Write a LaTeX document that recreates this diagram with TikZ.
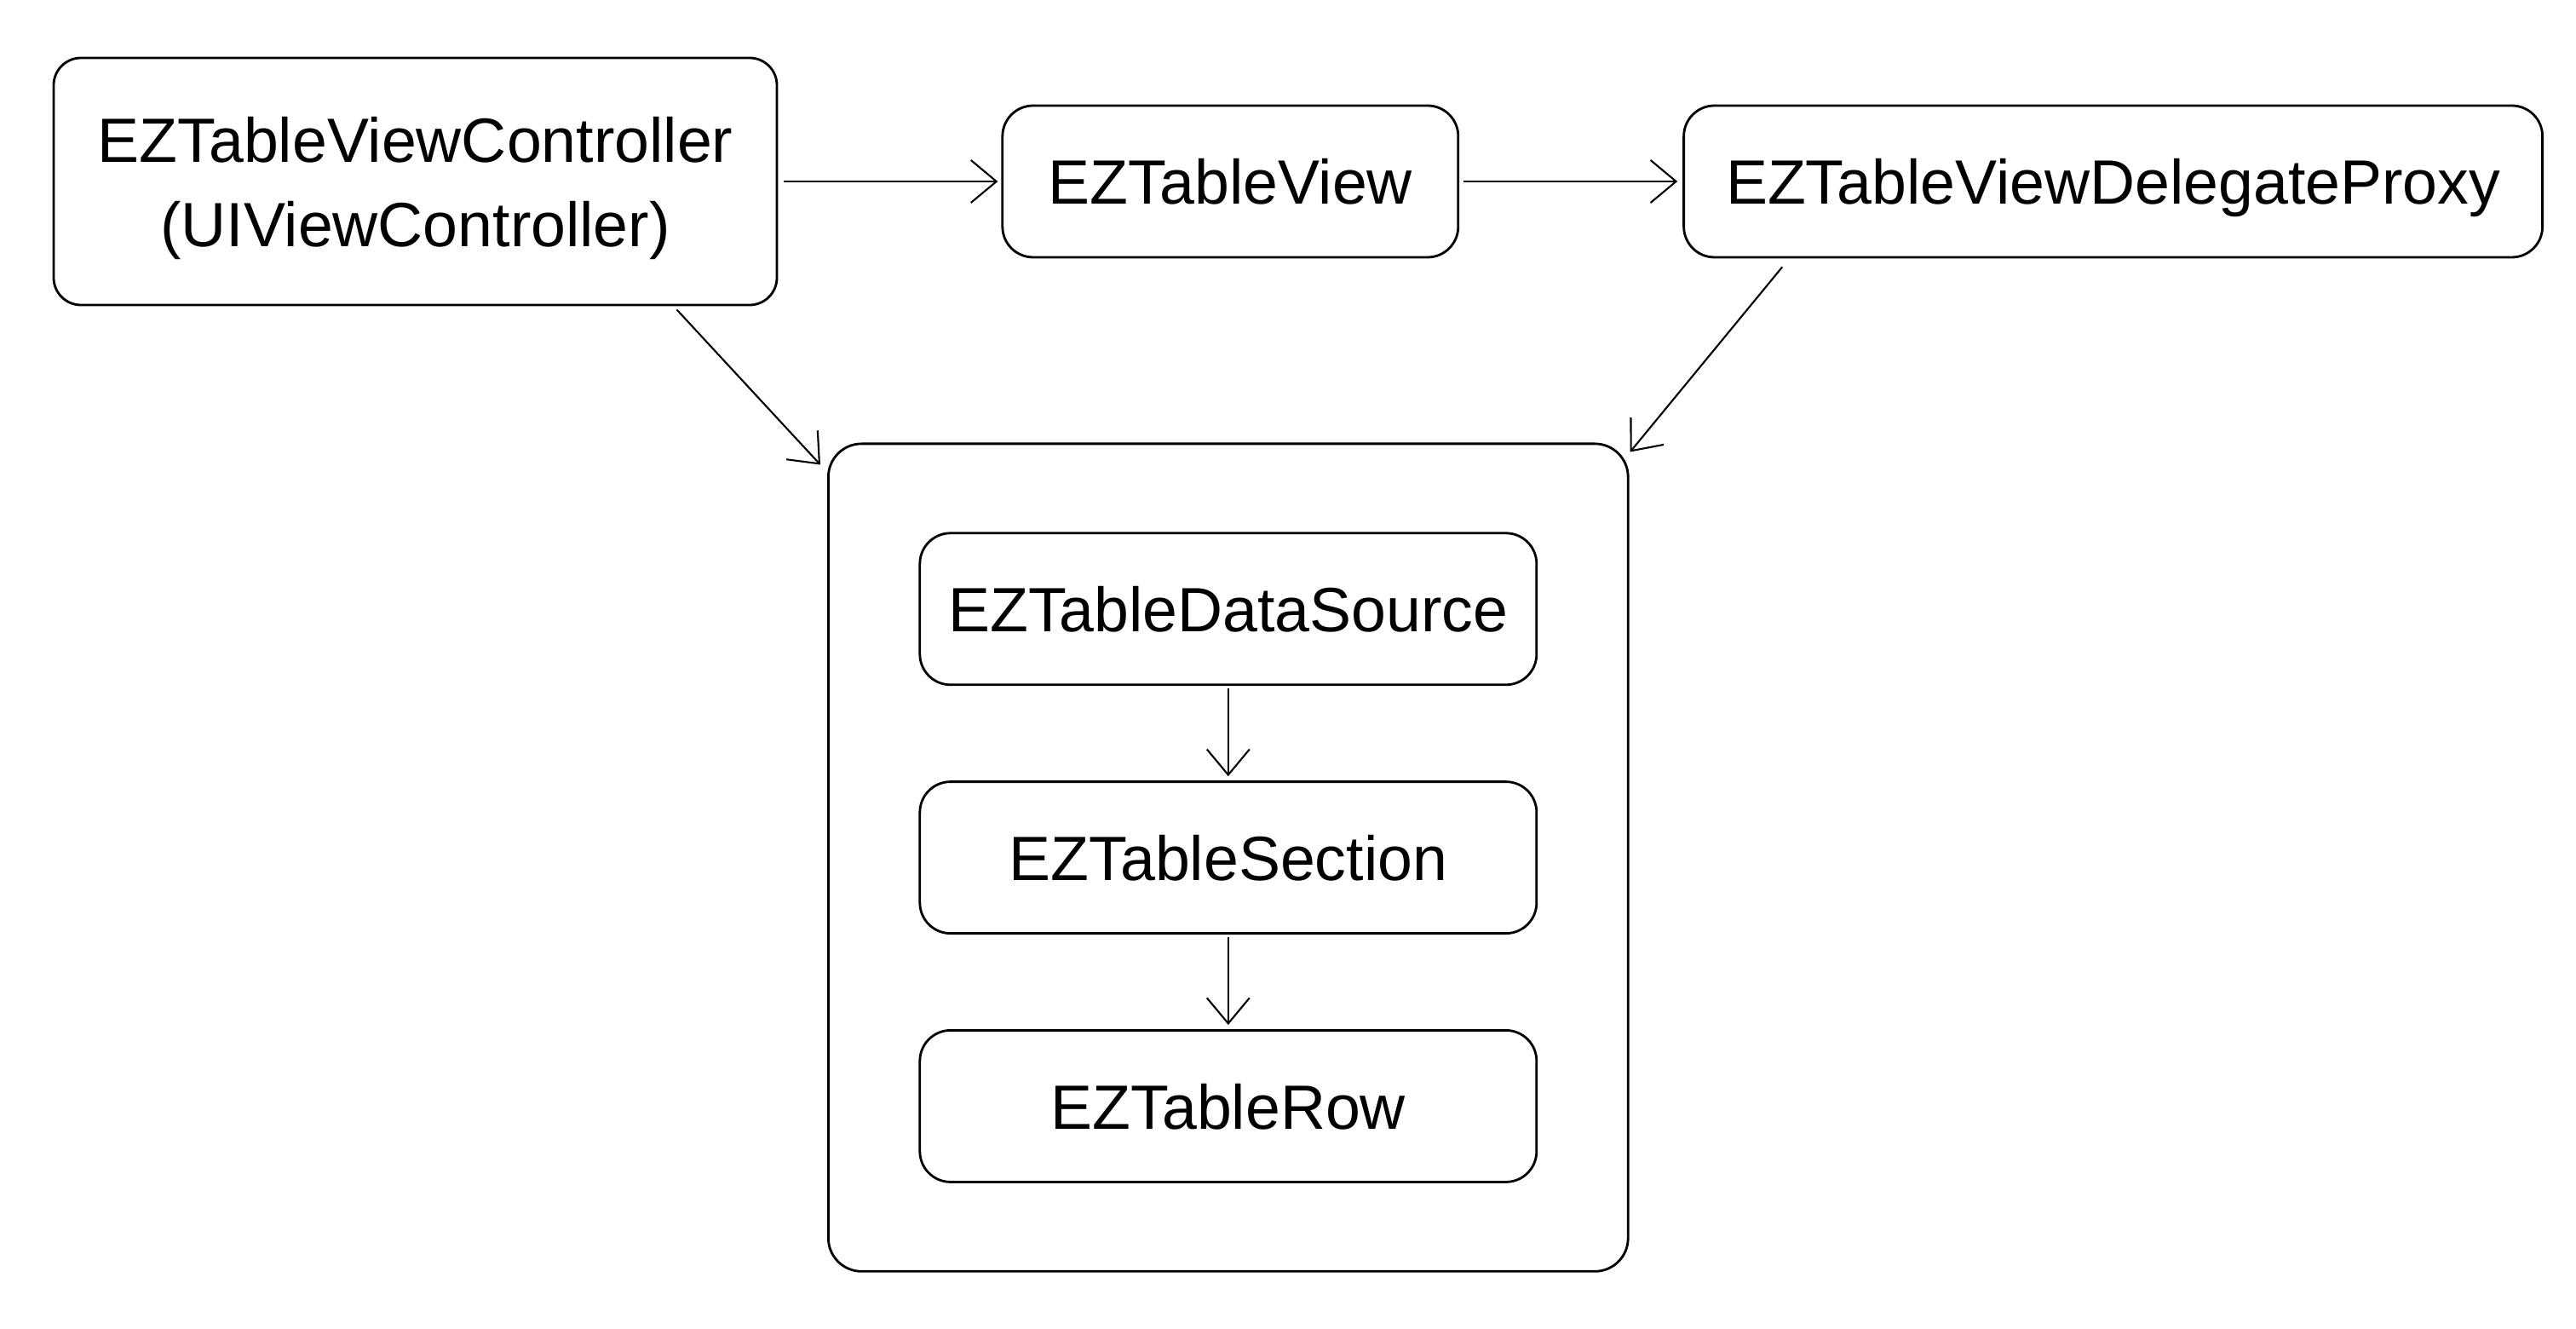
\documentclass[tikz,border=0pt]{standalone}
\usepackage{fontspec}
\setmainfont{Liberation Sans}
\usetikzlibrary{positioning, calc, fit, arrows.meta}

\begin{document}
\begin{tikzpicture}[block/.style={rectangle,draw,rounded corners=0.36cm,line width=0.8pt,minimum height=1.78cm,align=center,text depth=0pt,font=\fontsize{20.9pt}{28.2pt}\selectfont},>={Straight Barb[length=3mm,width=5mm]},node distance = 26.2mm ]
\useasboundingbox (0,0) rectangle (30.24,-15.6);
\node (vc) [block,minimum width=8.49cm,minimum height=2.9cm,rounded corners=0.32cm] at (4.875,-2.13) {EZTableViewController\\(UIViewController)};
\node (tv) [block,minimum width=5.35cm,right=of vc] {EZTableView};
\node (dp) [block,minimum width=10.08cm,right=of tv] {EZTableViewDelegateProxy};
\node (ds) [block,minimum width=7.24cm,below=3.21cm of tv,xshift=-0.025cm] {EZTableDataSource};
\node (sec) [block,minimum width=7.24cm,below=1.11cm of ds] {EZTableSection};
\node (row) [block,minimum width=7.24cm,below=1.11cm of sec] {EZTableRow};
\node (grp) [draw,rounded corners=0.39cm,line width=0.8pt,inner xsep=1.06cm,inner ysep=1.035cm,fit=(ds)(row)] {};
  \begin{scope}[line width=0.6pt]
    \draw [->, shorten <=0.07cm, shorten >=0.04cm] (vc) -- (tv);
    \draw [->, shorten <=0.05cm, shorten >=0.06cm] (tv) -- (dp);
    % diagonal links into the model group
    \draw [->] ($(vc.south east)+(-1.19,-0.04)$) -- ($(grp.north west)+(-0.08,-0.26)$);
    \draw [->] ($(dp.south west)+(1.17,-0.10)$) -- ($(grp.north east)+(0.01,-0.11)$);
    \draw [->, shorten <=0.03cm, shorten >=0.05cm] (ds) -- (sec);
    \draw [->, shorten <=0.03cm, shorten >=0.05cm] (sec) -- (row);
  \end{scope}
\end{tikzpicture}
\end{document}
